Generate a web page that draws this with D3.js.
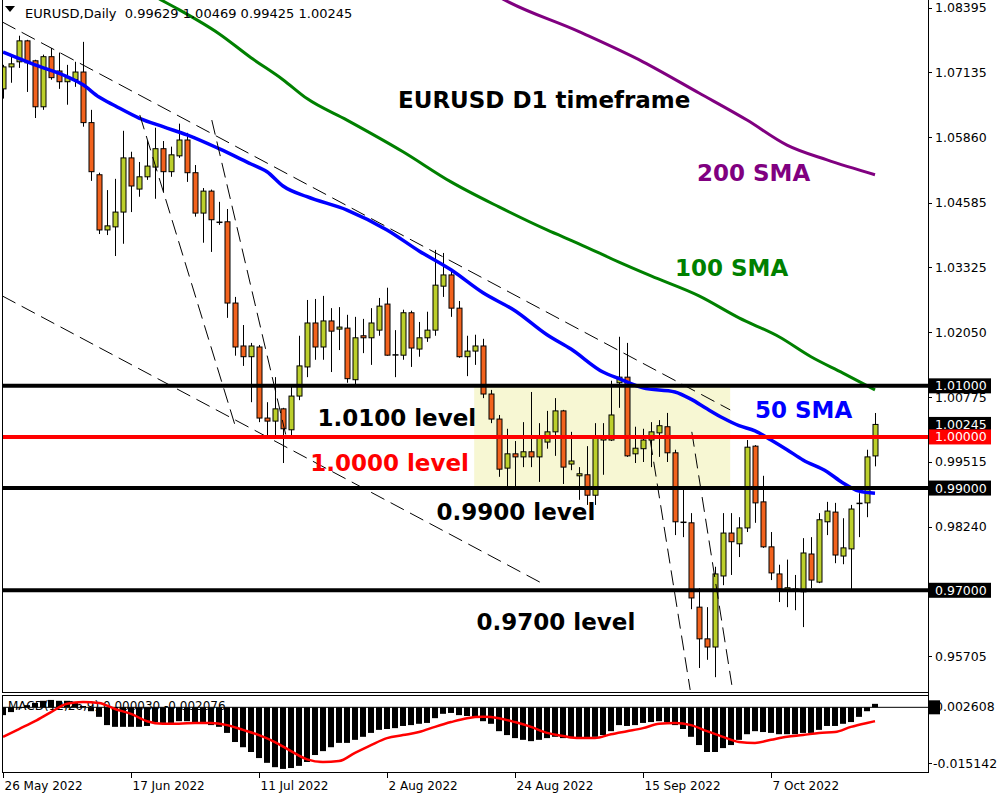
<!DOCTYPE html>
<html><head><meta charset="utf-8">
<script src="https://cdn.jsdelivr.net/npm/d3@7"></script>
<style>body{margin:0;background:#fff}svg{display:block}text{white-space:pre}</style>
</head><body>
<svg id="c" width="1000" height="800"></svg>
<script>
// ---------- DATA ----------
const opens  = [1.0681,1.0724,1.0734,1.0775,1.0736,1.0646,1.0744,1.0716,1.0695,1.0699,
 1.0714,1.0615,1.0513,1.0405,1.0411,1.0440,1.0546,1.0485,1.0509,1.0528,
 1.0564,1.0519,1.0550,1.0581,1.0517,1.0438,1.0481,1.0419,1.0421,1.0262,
 1.0178,1.0157,1.0176,1.0037,1.0031,1.0055,1.0014,1.0080,1.0137,1.0223,
 1.0176,1.0227,1.0211,1.0213,1.0112,1.0198,1.0194,1.0209,1.0260,1.0160,
 1.0160,1.0243,1.0172,1.0194,1.0209,1.0295,1.0317,1.0252,1.0157,1.0168,
 1.0178,1.0084,1.0035,0.9939,0.9967,0.9961,0.9971,0.9961,0.9990,1.0010,
 1.0051,0.9947,0.9924,0.9926,0.9886,0.9994,0.9994,1.0106,1.0117,0.9967,
 0.9977,0.9994,1.0008,1.0020,0.9969,0.9834,0.9832,0.9667,0.9605,0.9589,
 0.9728,0.9812,0.9791,0.9822,0.9982,0.9873,0.9785,0.9732,0.9701,0.9701,
 0.9697,0.9771,0.9716,0.9834,0.9853,0.9767,0.9781,0.9869,0.9871,0.99629];
const highs  = [1.0728,1.0748,1.0785,1.0777,1.0738,1.0748,1.0761,1.0752,1.0728,1.0734,
 1.0773,1.0640,1.0517,1.0483,1.0505,1.0599,1.0558,1.0538,1.0581,1.0605,
 1.0579,1.0568,1.0613,1.0595,1.0532,1.0487,1.0484,1.0460,1.0446,1.0274,
 1.0219,1.0184,1.0180,1.0068,1.0117,1.0057,1.0098,1.0198,1.0268,1.0270,
 1.0276,1.0252,1.0254,1.0239,1.0235,1.0231,1.0252,1.0272,1.0292,1.0209,
 1.0249,1.0247,1.0225,1.0245,1.0366,1.0360,1.0325,1.0266,1.0198,1.0200,
 1.0192,1.0092,1.0043,1.0016,0.9992,1.0029,1.0088,1.0027,1.0051,1.0076,
 1.0053,1.0010,0.9941,0.9982,1.0027,1.0027,1.0110,1.0196,1.0184,1.0020,
 1.0016,1.0029,1.0033,1.0047,0.9975,0.9904,0.9851,0.9704,0.9667,0.9746,
 0.9851,0.9851,0.9843,0.9994,0.9984,0.9924,0.9814,0.9750,0.9760,0.9730,
 0.9802,0.9804,0.9851,0.9873,0.9871,0.9841,0.9867,0.9890,0.9975,1.00469];
const lows   = [1.0662,1.0693,1.0722,1.0675,1.0624,1.0640,1.0699,1.0681,1.0650,1.0685,
 1.0607,1.0501,1.0397,1.0395,1.0354,1.0378,1.0440,1.0470,1.0503,1.0466,
 1.0478,1.0509,1.0546,1.0499,1.0431,1.0380,1.0362,1.0415,1.0233,1.0159,
 1.0139,1.0068,1.0029,1.0000,1.0000,0.9949,1.0000,1.0072,1.0117,1.0151,
 1.0151,1.0127,1.0170,1.0106,1.0102,1.0164,1.0141,1.0198,1.0159,1.0117,
 1.0151,1.0137,1.0157,1.0186,1.0198,1.0274,1.0235,1.0155,1.0119,1.0141,
 1.0076,1.0027,0.9922,0.9902,0.9902,0.9941,0.9941,0.9912,0.9977,0.9963,
 0.9908,0.9935,0.9877,0.9867,0.9867,0.9926,0.9992,1.0057,0.9961,0.9949,
 0.9951,0.9941,0.9961,0.9951,0.9808,0.9804,0.9663,0.9548,0.9564,0.9530,
 0.9710,0.9730,0.9765,0.9814,0.9832,0.9783,0.9720,0.9677,0.9667,0.9661,
 0.9628,0.9704,0.9714,0.9808,0.9753,0.9751,0.9701,0.9804,0.9843,0.99425];
const closes = [1.0724,1.0730,1.0775,1.0732,1.0646,1.0744,1.0703,1.0695,1.0703,1.0714,
 1.0615,1.0519,1.0405,1.0413,1.0440,1.0546,1.0491,1.0509,1.0530,1.0564,
 1.0519,1.0552,1.0581,1.0517,1.0438,1.0481,1.0425,1.0421,1.0262,1.0176,
 1.0157,1.0178,1.0037,1.0031,1.0055,1.0016,1.0080,1.0139,1.0223,1.0176,
 1.0227,1.0207,1.0215,1.0114,1.0194,1.0194,1.0223,1.0256,1.0160,1.0161,
 1.0243,1.0174,1.0194,1.0209,1.0297,1.0317,1.0252,1.0157,1.0168,1.0178,
 1.0084,1.0035,0.9937,0.9967,0.9961,0.9971,0.9961,0.9998,1.0010,1.0051,
 0.9941,0.9953,0.9928,0.9886,0.9998,1.0002,1.0043,1.0117,0.9963,0.9978,
 0.9994,1.0010,1.0022,0.9969,0.9834,0.9832,0.9685,0.9605,0.9589,0.9732,
 0.9812,0.9795,0.9822,0.9980,0.9871,0.9785,0.9734,0.9703,0.9705,0.9703,
 0.9773,0.9720,0.9838,0.9855,0.9769,0.9783,0.9859,0.9871,0.9961,1.00245];

// moving averages: bar index / value pairs
const sma50Bars = [0,4,8,10,12,14,17,20,23,27,31,33,35,38,43,48,52,56,60,64,68,71,75,77,80,84,86,88,90,92,94,96,98,100,103,105,107,109];
const sma50Vals = [1.0753,1.0728,1.0705,1.0689,1.0665,1.0648,1.0624,1.0607,1.0591,1.0564,1.0534,1.0519,1.0491,1.0470,1.0444,1.0405,1.0364,1.0327,1.0282,1.0247,1.0200,1.0172,1.0127,1.0114,1.0096,1.0088,1.0074,1.0055,1.0037,1.0022,1.0012,0.9994,0.9975,0.9955,0.9932,0.9910,0.9894,0.9890];
const sma100Bars = [14,20,22,27,31,35,38,43,50,56,62,68,72,77,81,87,92,97,101,105,109];
const sma100Vals = [1.0910,1.0853,1.0836,1.0789,1.0742,1.0699,1.0662,1.0620,1.0558,1.0499,1.0450,1.0405,1.0378,1.0342,1.0315,1.0276,1.0233,1.0196,1.0157,1.0125,1.0092];
const sma200Bars = [60,62,72,80,87,93,98,103,109];
const sma200Vals = [1.0880,1.0861,1.0793,1.0734,1.0673,1.0620,1.0571,1.0542,1.0513];

// MACD(12,26,9): main (histogram) and signal
const macdMain = [-0.0018,-0.0011,-0.0002,0.0005,0.0010,0.0015,0.0017,0.0015,0.0015,0.0012,
 0.0003,-0.0009,-0.0022,-0.0041,-0.0045,-0.0045,-0.0045,-0.0045,-0.0043,-0.0034,
 -0.0036,-0.0036,-0.0032,-0.0032,-0.0036,-0.0036,-0.0041,-0.0045,-0.0059,-0.0080,
 -0.0092,-0.0103,-0.0117,-0.0128,-0.0138,-0.0142,-0.0140,-0.0135,-0.0126,-0.0110,
 -0.0101,-0.0092,-0.0082,-0.0082,-0.0075,-0.0068,-0.0059,-0.0052,-0.0050,-0.0048,
 -0.0043,-0.0041,-0.0038,-0.0036,-0.0025,-0.0015,-0.0013,-0.0018,-0.0020,-0.0022,
 -0.0032,-0.0038,-0.0055,-0.0064,-0.0071,-0.0075,-0.0078,-0.0075,-0.0071,-0.0068,
 -0.0071,-0.0071,-0.0071,-0.0071,-0.0068,-0.0064,-0.0055,-0.0041,-0.0043,-0.0041,
 -0.0036,-0.0034,-0.0032,-0.0034,-0.0041,-0.0050,-0.0068,-0.0087,-0.0103,-0.0103,
 -0.0094,-0.0087,-0.0075,-0.0062,-0.0055,-0.0057,-0.0059,-0.0062,-0.0062,-0.0062,
 -0.0059,-0.0059,-0.0052,-0.0043,-0.0043,-0.0038,-0.0034,-0.0022,-0.0009,0.0008];
const signalBars = [0,2,4,6,8,10,12,14,16,18,20,22,24,26,28,30,32,34,36,38,40,42,44,46,48,50,52,54,56,58,60,62,64,66,68,70,72,74,76,78,80,82,84,86,88,90,92,94,96,98,100,102,104,106,108,109];
const signalVals = [-0.0068,-0.0050,-0.0032,-0.0011,0.0008,0.0012,0.0010,-0.0004,-0.0015,-0.0032,-0.0038,-0.0038,-0.0036,-0.0036,-0.0041,-0.0052,-0.0064,-0.0080,-0.0101,-0.0120,-0.0126,-0.0124,-0.0105,-0.0087,-0.0071,-0.0064,-0.0057,-0.0045,-0.0034,-0.0025,-0.0022,-0.0025,-0.0034,-0.0045,-0.0059,-0.0066,-0.0071,-0.0071,-0.0062,-0.0055,-0.0048,-0.0038,-0.0036,-0.0041,-0.0055,-0.0068,-0.0080,-0.0082,-0.0075,-0.0068,-0.0064,-0.0059,-0.0057,-0.0045,-0.0036,-0.0032];

// axis tick labels
const priceTicks = [1.08395,1.07135,1.05860,1.04585,1.03325,1.02050,1.00775,0.99515,0.98240,0.95705];
const dateTickBars = [0,16,32,48,64,80,96];
const dateTickLabels = ["26 May 2022","17 Jun 2022","11 Jul 2022","2 Aug 2022","24 Aug 2022","15 Sep 2022","7 Oct 2022"];
const macdTicks = [0.002608,-0.015142];

// levels and annotations
const levelPrices = [1.0100,1.0000,0.9900,0.9700];
const levelColors = ["#000","#ff0000","#000","#000"];
const levelTexts = ["1.0100 level","1.0000 level","0.9900 level","0.9700 level"];
const levelTextBar = [39.3,38.4,54.2,59.2];
const levelTextPrice = [1.0037,0.9949,0.9853,0.9638];
const zone = {bar0:58.9, bar1:90.9, top:1.0100, bottom:0.9900};
// dashed trend lines [bar0, price0, bar1, price1]
const trendLines = [
 [-0.1,1.0812,90.9,1.0053],
 [-0.1,1.0276,67.1,0.9716],
 [17.1,1.0630,29.1,1.0018],
 [26.1,1.0620,35.5,0.9994],
 [80.9,0.9994,85.9,0.9505],
 [86.1,1.0010,91.1,0.9515]
];
const markedLabels = [
 {v:1.01000,bg:"#000"},{v:1.00245,bg:"#000"},{v:1.00000,bg:"#ff0000"},{v:0.99000,bg:"#000"},{v:0.97000,bg:"#000"}
];
const header = "EURUSD,Daily  0.99629 1.00469 0.99425 1.00245";
const macdTitle = "MACD(12,26,9) 0.000030 -0.002076";

// ---------- DRAWING ----------
const svg = d3.select("#c");
const L = 2, R = 928, mainTop = 0, mainBot = 692, macdTop = 696, macdBot = 773;
const x = d3.scaleLinear().domain([0,109]).range([3,875]);
const y = d3.scaleLinear().domain([0.9501,1.0851]).range([692,2]);
const ym = d3.scaleLinear().domain([-0.015142,0.002608]).range([773,696]);
const BULL = "#bccf2c", BEAR = "#f2621d";

svg.append("rect").attr("width",1000).attr("height",800).attr("fill","#fff");
const defs = svg.append("defs");
defs.append("clipPath").attr("id","clipMain").append("rect").attr("x",L).attr("y",mainTop).attr("width",R-L).attr("height",mainBot-mainTop);
defs.append("clipPath").attr("id","clipMacd").append("rect").attr("x",L).attr("y",macdTop).attr("width",R-L).attr("height",macdBot-macdTop);

const gMain = svg.append("g").attr("clip-path","url(#clipMain)");

// zone
gMain.append("rect").attr("x",x(zone.bar0)).attr("y",y(zone.top))
 .attr("width",x(zone.bar1)-x(zone.bar0)).attr("height",y(zone.bottom)-y(zone.top))
 .attr("fill","#f7f7d3");

// candles
const idx = d3.range(opens.length);
const gC = gMain.append("g");
idx.forEach(i=>{
  const cx = Math.round(x(i))+0.5;
  gC.append("line").attr("x1",cx).attr("x2",cx).attr("y1",y(highs[i])).attr("y2",y(lows[i]))
    .attr("stroke","#000").attr("stroke-width",1);
  const yo = y(opens[i]), yc = y(closes[i]);
  const top = Math.min(yo,yc), h = Math.abs(yo-yc);
  if (h < 1.5) {
    gC.append("line").attr("x1",cx-3).attr("x2",cx+3).attr("y1",(yo+yc)/2).attr("y2",(yo+yc)/2)
      .attr("stroke","#000").attr("stroke-width",1.5);
  } else {
    gC.append("rect").attr("x",cx-2.5).attr("y",top).attr("width",5).attr("height",h)
      .attr("fill", closes[i]>=opens[i]?BULL:BEAR).attr("stroke","#000").attr("stroke-width",1);
  }
});

// moving averages
const mkLine = (bars,vals)=> d3.line().curve(d3.curveMonotoneX)(bars.map((b,k)=>[x(b),y(vals[k])]));
gMain.append("path").attr("d",mkLine(sma200Bars,sma200Vals)).attr("fill","none").attr("stroke","#800080").attr("stroke-width",3);
gMain.append("path").attr("d",mkLine(sma100Bars,sma100Vals)).attr("fill","none").attr("stroke","#008000").attr("stroke-width",3);
gMain.append("path").attr("d",mkLine(sma50Bars,sma50Vals)).attr("fill","none").attr("stroke","#0000ff").attr("stroke-width",3.5);

// trend lines
trendLines.forEach(t=>{
  gMain.append("line").attr("x1",x(t[0])).attr("y1",y(t[1])).attr("x2",x(t[2])).attr("y2",y(t[3]))
   .attr("stroke","#000").attr("stroke-width",1).attr("stroke-dasharray","15,7");
});

// horizontal levels
levelPrices.forEach((p,k)=>{
  gMain.append("line").attr("x1",L).attr("x2",R).attr("y1",y(p)).attr("y2",y(p))
   .attr("stroke",levelColors[k]).attr("stroke-width",4);
});

// annotation texts
const big = (t,xx,yy,col)=> svg.append("text").attr("x",xx).attr("y",yy).attr("dominant-baseline","central")
  .attr("font-family","DejaVu Sans").attr("font-weight","bold").attr("font-size",23).attr("fill",col).text(t);
levelTexts.forEach((t,k)=> big(t,x(levelTextBar[k]),y(levelTextPrice[k]),levelColors[k]));
big("EURUSD D1 timeframe",398,100,"#000");
big("200 SMA",697,173,"#800080");
big("100 SMA",675,268,"#008000");
big("50 SMA",755,410,"#0000ff");

// header
svg.append("path").attr("d","M5,6 L15,6 L10,12 Z").attr("fill","#000");
svg.append("text").attr("x",25).attr("y",13).attr("dominant-baseline","central")
  .attr("font-family","DejaVu Sans").attr("font-size",13).attr("fill","#000").text(header);

// MACD pane
const gM = svg.append("g").attr("clip-path","url(#clipMacd)");
gM.append("text").attr("x",8).attr("y",706).attr("dominant-baseline","central")
  .attr("font-family","DejaVu Sans").attr("font-size",12).attr("fill","#000").text(macdTitle);
gM.append("line").attr("x1",L).attr("x2",R).attr("y1",ym(0)).attr("y2",ym(0)).attr("stroke","#000").attr("stroke-width",1);
idx.forEach(i=>{
  const v = macdMain[i];
  gM.append("rect").attr("x",Math.round(x(i))-3).attr("y",Math.min(ym(v),ym(0)))
    .attr("width",6).attr("height",Math.max(1,Math.abs(ym(v)-ym(0)))).attr("fill","#000");
});
gM.append("path").attr("d",d3.line().curve(d3.curveMonotoneX)(signalBars.map((b,k)=>[x(b),ym(signalVals[k])])))
  .attr("fill","none").attr("stroke","#ff0000").attr("stroke-width",2.5);

// frames
const fr = svg.append("g").attr("stroke","#000").attr("stroke-width",1).attr("fill","none");
fr.append("line").attr("x1",L+0.5).attr("x2",L+0.5).attr("y1",0).attr("y2",mainBot);
fr.append("line").attr("x1",L).attr("x2",R).attr("y1",mainBot+0.5).attr("y2",mainBot+0.5);
fr.append("rect").attr("x",L+0.5).attr("y",macdTop-0.5).attr("width",R-L).attr("height",macdBot-macdTop);
fr.append("line").attr("x1",R+0.5).attr("x2",R+0.5).attr("y1",0).attr("y2",macdBot);

// right price axis
const axG = svg.append("g").attr("font-family","DejaVu Sans").attr("font-size",12.5);
priceTicks.forEach(p=>{
  axG.append("line").attr("x1",R).attr("x2",R+4).attr("y1",Math.round(y(p))+0.5).attr("y2",Math.round(y(p))+0.5).attr("stroke","#000");
  axG.append("text").attr("x",935).attr("y",y(p)).attr("dominant-baseline","central").attr("fill","#000").text(p.toFixed(5));
});
markedLabels.forEach(m=>{
  const yy = y(m.v);
  axG.append("rect").attr("x",R+1).attr("y",yy-7.5).attr("width",62).attr("height",15).attr("fill",m.bg);
  axG.append("text").attr("x",935).attr("y",yy).attr("dominant-baseline","central").attr("fill","#fff").text(m.v.toFixed(5));
});
// macd axis
axG.append("rect").attr("x",R+1).attr("y",ym(0)-7).attr("width",11).attr("height",14).attr("fill","#000");
macdTicks.forEach((v,k)=>{
  const yy = k===0 ? 706 : 763;
  axG.append("line").attr("x1",R).attr("x2",R+4).attr("y1",yy+0.5).attr("y2",yy+0.5).attr("stroke","#000");
  axG.append("text").attr("x",k===0?935:933).attr("y",yy).attr("dominant-baseline","central").attr("fill","#000").text(v.toFixed(6));
});

// date axis
const dG = svg.append("g").attr("font-family","DejaVu Sans").attr("font-size",12);
dateTickBars.forEach((b,k)=>{
  const xx = Math.round(x(b))+0.5;
  dG.append("line").attr("x1",xx).attr("x2",xx).attr("y1",macdBot).attr("y2",macdBot+5).attr("stroke","#000");
  dG.append("text").attr("x",xx+1).attr("y",786).attr("dominant-baseline","central").attr("fill","#000").text(dateTickLabels[k]);
});
</script>
</body></html>
